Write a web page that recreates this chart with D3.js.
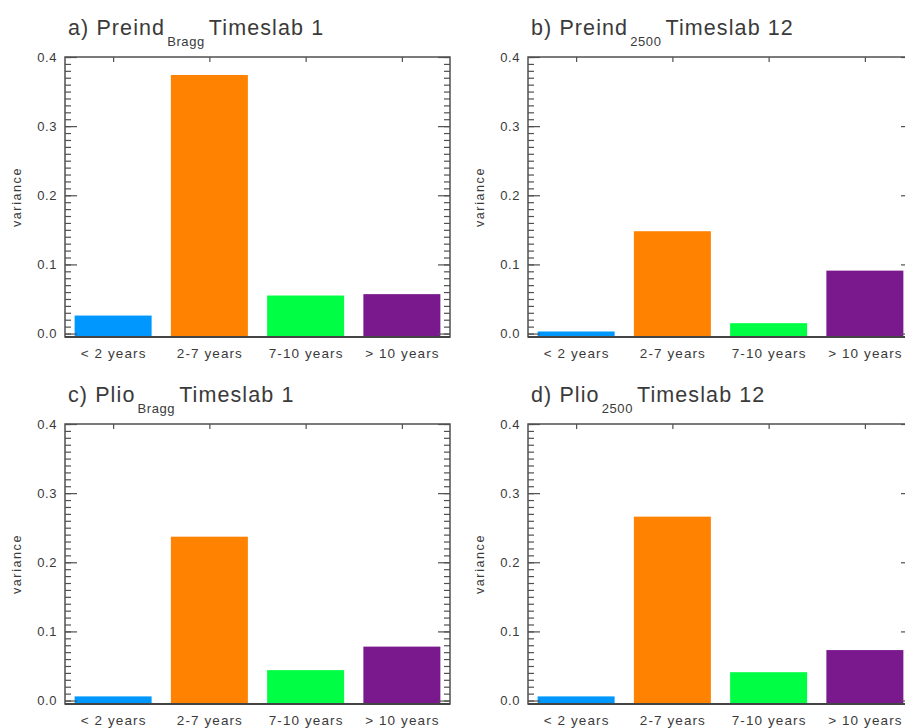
<!DOCTYPE html>
<html lang="en">
<head>
  <meta charset="UTF-8">
  <title>Variance by period band</title>
  <script src="https://d3js.org/d3.v7.min.js"></script>
  <style>
    body { margin: 0; background: #fff; }
    svg text { font-family: "Liberation Sans", Arial, Helvetica, sans-serif; fill: #3a3a3a; }
  </style>
</head>
<body>
<div id="chart"></div>
<script>
  // period bands on the x axis
  const categories = ['< 2 years', '2-7 years', '7-10 years', '> 10 years'];
  const barColors = ['#0098ff', '#ff8200', '#00ff44', '#7a198d'];

  // variance per band
  const preindBragg = [0.026, 0.374, 0.055, 0.057];
  const preind2500 = [0.003, 0.148, 0.015, 0.091];
  const plioBragg = [0.006, 0.237, 0.044, 0.078];
  const plio2500 = [0.006, 0.266, 0.041, 0.073];

  const yTicks = [0.0, 0.1, 0.2, 0.3, 0.4];

  const panels = [
    { pre: 'a) Preind', sub: 'Bragg', post: 'Timeslab 1', values: preindBragg, left: 65, top: 57 },
    { pre: 'b) Preind', sub: '2500', post: 'Timeslab 12', values: preind2500, left: 528, top: 57 },
    { pre: 'c) Plio', sub: 'Bragg', post: 'Timeslab 1', values: plioBragg, left: 65, top: 424 },
    { pre: 'd) Plio', sub: '2500', post: 'Timeslab 12', values: plio2500, left: 528, top: 424 }
  ];

  const width = 385;
  const height = 280;
  const frameColor = '#505050';

  const svg = d3.select('#chart')
    .append('svg')
    .attr('width', 905)
    .attr('height', 728);

  const x = d3.scaleBand().domain(categories).range([0, width]).paddingInner(0.2).paddingOuter(0.1);
  const xc = d3.scalePoint().domain(categories).range([width / 8, width * 7 / 8]);
  const y = d3.scaleLinear().domain([-0.005, 0.4]).range([height, 0]);
  const minorTicks = d3.range(0, 0.4001, 0.01);

  panels.forEach(p => {
    const g = svg.append('g').attr('transform', `translate(${p.left},${p.top})`);

    // bars
    g.selectAll('rect.bar')
      .data(p.values)
      .enter().append('rect')
      .attr('class', 'bar')
      .attr('x', (d, i) => x(categories[i]))
      .attr('width', x.bandwidth())
      .attr('y', d => y(d))
      .attr('height', d => y(y.domain()[0]) - y(d))
      .attr('fill', (d, i) => barColors[i]);

    // minor ticks, left and right, pointing inward
    const styleAxis = sel => {
      sel.select('.domain').remove();
      sel.selectAll('line').attr('stroke', frameColor).attr('stroke-width', 1.2);
    };
    g.append('g')
      .call(d3.axisLeft(y).tickValues(minorTicks).tickSize(-6).tickFormat(''))
      .call(styleAxis);
    g.append('g')
      .attr('transform', `translate(${width},0)`)
      .call(d3.axisRight(y).tickValues(minorTicks).tickSize(-6).tickFormat(''))
      .call(styleAxis);

    // major ticks with labels
    g.append('g')
      .call(d3.axisLeft(y).tickValues(yTicks).tickSize(-12).tickPadding(8).tickFormat(d3.format('.1f')))
      .call(styleAxis)
      .call(a => a.selectAll('text')
        .style('font-size', '13px')
        .style('letter-spacing', '0.6px')
        .attr('fill', '#3a3a3a'));
    g.append('g')
      .attr('transform', `translate(${width},0)`)
      .call(d3.axisRight(y).tickValues(yTicks).tickSize(-12).tickFormat(''))
      .call(styleAxis);

    // top ticks at category centres
    g.append('g')
      .call(d3.axisTop(xc).tickSize(-5).tickFormat(''))
      .call(styleAxis);

    // bottom category labels
    g.append('g')
      .attr('transform', `translate(0,${height})`)
      .call(d3.axisBottom(xc).tickSize(0).tickPadding(11))
      .call(a => a.select('.domain').remove())
      .call(a => a.selectAll('text')
        .style('font-size', '13.5px')
        .style('letter-spacing', '1.1px')
        .attr('fill', '#3a3a3a'));

    // frame
    g.append('rect')
      .attr('width', width)
      .attr('height', height)
      .attr('fill', 'none')
      .attr('stroke', frameColor)
      .attr('stroke-width', 1.5);
    g.append('line')
      .attr('x1', 0).attr('x2', width)
      .attr('y1', height).attr('y2', height)
      .attr('stroke', '#444')
      .attr('stroke-width', 2.2);

    // y axis title
    g.append('text')
      .attr('transform', `translate(-44,${height / 2}) rotate(-90)`)
      .attr('text-anchor', 'middle')
      .style('font-size', '12.5px')
      .style('letter-spacing', '1.6px')
      .text('variance');

    // panel title with subscript
    const t = g.append('text')
      .attr('x', 3)
      .attr('y', -22)
      .style('font-size', '21.5px')
      .style('letter-spacing', '1.1px')
      .attr('fill', '#454545');
    t.append('tspan').text(p.pre);
    t.append('tspan')
      .attr('dy', 11)
      .attr('dx', 2)
      .style('font-size', '13px')
      .style('letter-spacing', '0.6px')
      .text(p.sub);
    t.append('tspan')
      .attr('dy', -11)
      .attr('dx', 4)
      .text(p.post);
  });
</script>
</body>
</html>
